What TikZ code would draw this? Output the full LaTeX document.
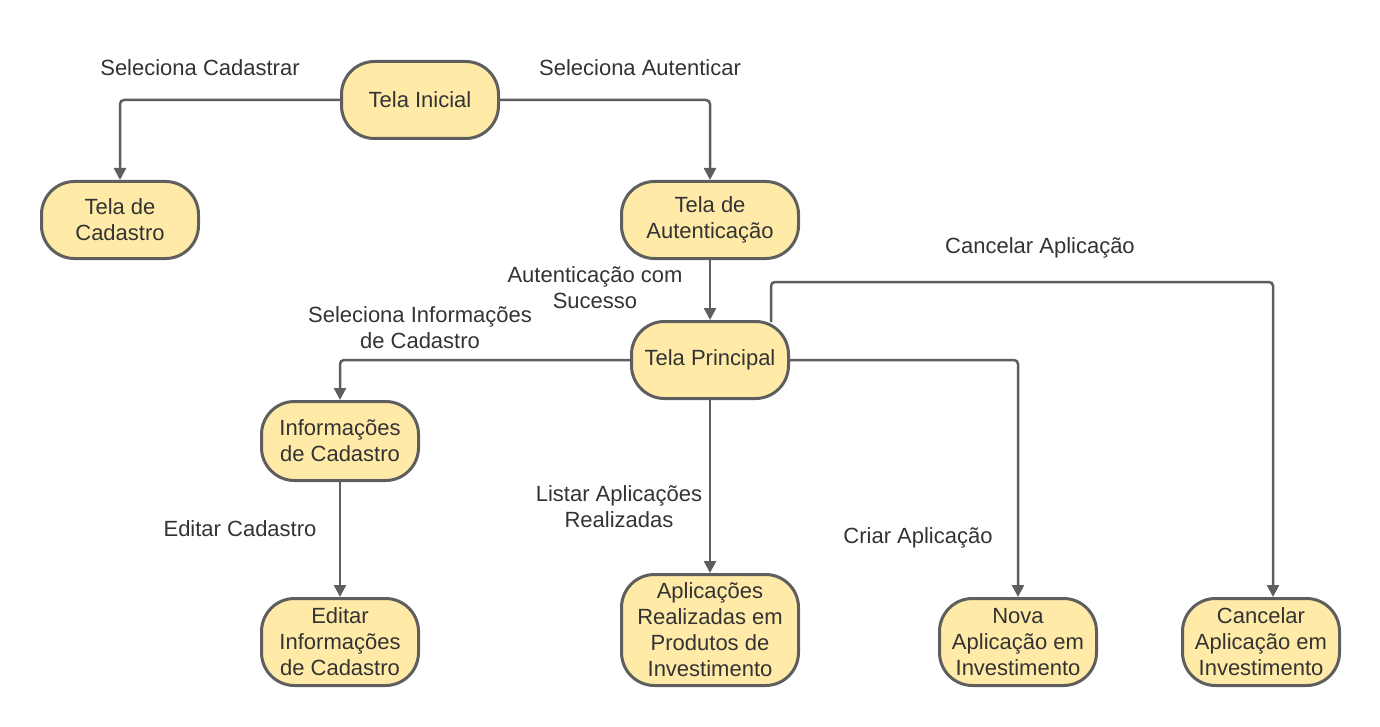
\documentclass[tikz,border=0pt]{standalone}
\usepackage{fontspec}
\setmainfont{Liberation Sans}
\usepackage{xcolor}
\usepackage{tikz}
\usetikzlibrary{positioning}
\usetikzlibrary{arrows.meta}
\definecolor{boxfill}{HTML}{FFEAA7}
\definecolor{boxline}{HTML}{5E5E5E}
\definecolor{txt}{HTML}{333333}
\tikzset{edge/.style = {-{Triangle[length=12pt,width=12pt]}, draw=boxline, line width=2.5pt, rounded corners=4pt}}

\begin{document}
\begin{tikzpicture}[x=1pt,y=-1pt,on grid,
  main node/.style={rectangle,rounded corners=33pt,draw=boxline,fill=boxfill,line width=3pt,minimum width=157pt,minimum height=77pt,align=center,inner sep=2pt,text=txt,font=\fontsize{22}{26}\selectfont},
  label node/.style={align=center,inner sep=0pt,text=txt,font=\fontsize{22}{26}\selectfont}]
                \useasboundingbox (0,0) rectangle (1380,727);
                \node[main node] (ini) at (420,100) {Tela Inicial};
                \node[main node] (cad) [below left=120pt and 300pt of ini] {Tela de\\Cadastro};
                \node[main node, minimum width=177pt] (aut) [below right=120pt and 290pt of ini] {Tela de\\Autenticação};
                \node[main node] (pri) [below=140pt of aut] {Tela Principal};
                \node[main node, minimum height=79pt] (info) [below left=81pt and 370pt of pri] {Informações\\de Cadastro};
                \node[main node, minimum width=177pt, minimum height=111pt] (apl) [below=270pt of pri] {Aplicações\\Realizadas em\\Produtos de\\Investimento};
                \node[main node, minimum height=87pt] (edit) [below=201pt of info] {Editar\\Informações\\de Cadastro};
                \node[main node, minimum height=87pt] (nova) [below right=282pt and 308pt of pri] {Nova\\Aplicação em\\Investimento};
                \node[main node, minimum height=87pt] (canc) [right=243pt of nova] {Cancelar\\Aplicação em\\Investimento};
                \coordinate (ccorner) at (1273,282);

                \draw[edge] (ini.west) -| (cad.north);
                \draw[edge] (ini.east) -| (aut.north);
                \draw[edge] (aut) -- (pri);
                \draw[edge] (pri.west) -| (info.north);
                \draw[edge] (pri) -- (apl);
                \draw[edge] (pri.east) -| (nova.north);
                \draw[edge] ([xshift=61pt,yshift=-2pt]pri.north) |- (ccorner) -- ([xshift=12pt]canc.north);
                \draw[edge] (info) -- (edit);

                \node[label node] (lcad) at (200,68) {Seleciona Cadastrar};
                \node[label node] (laut) at (640,68) {Seleciona Autenticar};
                \node[label node] (lsuc) at (595,288) {Autenticação com\\Sucesso};
                \node[label node] (lcanc) at (1040,248) {Cancelar Aplicação};
                \node[label node] (linfo) at (420,328) {Seleciona Informações\\de Cadastro};
                \node[label node] (ledit) at (240,529) {Editar Cadastro};
                \node[label node] (llist) at (619,507) {Listar Aplicações\\Realizadas};
                \node[label node] (lcria) at (918,538) {Criar Aplicação};
            \end{tikzpicture}
\end{document}
